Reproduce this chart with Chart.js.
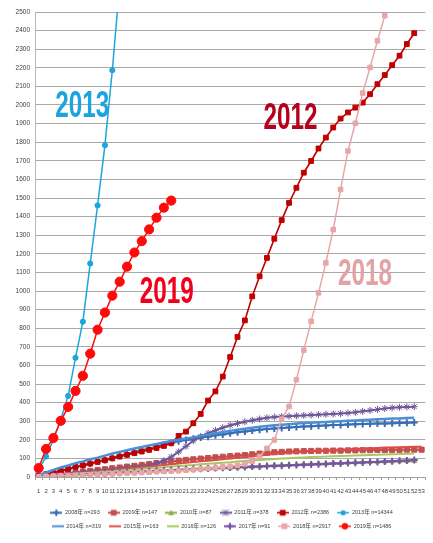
<!DOCTYPE html>
<html><head><meta charset="utf-8">
<script src="https://cdn.jsdelivr.net/npm/chart.js@4.4.0/dist/chart.umd.min.js"></script>
<style>html,body{margin:0;padding:0;background:#fff;}#wrap{width:433px;height:543px;}</style>
</head><body><div id="wrap"><canvas id="c" width="433" height="543"></canvas></div>
<script>
const weekLabels = ['1','2','3','4','5','6','7','8','9','10','11','12','13','14','15','16','17','18','19','20','21','22','23','24','25','26','27','28','29','30','31','32','33','34','35','36','37','38','39','40','41','42','43','44','45','46','47','48','49','50','51','52','53'];
const seriesNames = ['2008年 n=293','2009年 n=147','2010年 n=87','2011年 n=378','2012年 n=2386','2013年 n=14344','2014年 n=319','2015年 n=163','2016年 n=126','2017年 n=91','2018年 n=2917','2019年 n=1486'];
const y2008 = [5,13,22,32,42,53,62,73,83,92,103,114,123,134,144,153,163,174,183,192,199,205,212,217,224,229,235,241,245,250,254,258,261,263,266,269,271,273,275,277,279,280,282,284,285,286,287,288,289,290,291,293];
const y2009 = [3,7,11,16,20,24,29,33,38,42,47,51,56,60,65,70,75,79,84,88,92,95,99,102,106,109,112,115,118,122,126,130,133,135,137,138,139,140,141,141,142,142,143,143,144,144,145,145,146,146,147,147,147];
const y2010 = [1,3,4,6,8,9,11,13,15,16,18,21,23,24,26,28,30,31,34,36,37,39,42,43,45,48,49,51,54,55,57,60,61,63,65,66,68,70,71,72,74,75,77,78,79,81,82,83,84,85,86,87];
const y2011 = [3,6,9,12,15,19,22,26,30,34,38,42,46,51,55,62,72,88,108,135,165,195,218,235,251,265,278,288,297,305,312,318,322,325,327,329,331,333,335,337,339,341,344,348,353,358,363,368,372,375,377,378];
const y2012 = [8,15,24,33,43,54,63,72,81,90,100,110,119,128,137,146,156,167,182,221,244,289,339,411,460,540,645,753,842,971,1079,1178,1281,1381,1474,1555,1636,1699,1766,1825,1879,1927,1960,1986,2013,2058,2112,2161,2214,2265,2328,2386];
const y2013 = [40,110,200,310,436,641,835,1148,1460,1784,2187,2650];
const y2014 = [10,24,38,51,62,74,84,95,104,115,126,135,144,153,161,170,177,185,193,200,207,213,221,228,234,242,248,254,259,265,270,274,278,281,284,287,290,292,294,296,298,300,302,304,306,308,310,312,314,315,317,319];
const y2015 = [2,5,9,12,15,18,22,25,29,32,36,40,44,48,52,56,60,64,68,72,76,80,84,88,92,96,100,104,108,112,116,120,124,127,130,133,136,139,141,143,145,147,149,151,153,155,156,158,159,160,161,162,163];
const y2016 = [2,5,8,10,14,17,20,23,26,29,31,35,38,41,44,47,49,53,56,59,62,64,68,71,74,77,79,83,86,89,92,94,97,99,101,103,105,107,109,110,112,113,114,116,117,118,119,121,122,123,125,126];
const y2017 = [2,4,6,7,9,11,13,15,17,19,21,23,25,27,29,31,33,35,37,39,41,43,45,46,48,50,51,53,54,56,57,59,60,61,63,64,66,67,69,70,72,73,75,76,78,80,81,83,85,87,89,91];
const y2018 = [2,4,5,7,8,10,11,13,14,16,17,19,20,22,24,26,28,30,32,34,37,40,43,46,50,54,58,63,70,85,110,154,199,311,379,523,681,837,990,1151,1330,1546,1753,1902,2064,2202,2345,2480,2640];
const y2019 = [48,151,210,302,377,463,544,663,792,884,975,1050,1131,1207,1268,1331,1394,1448,1486];
const yearLabelTexts = ['2013','2012','2019','2018'];

const seriesData = [y2008,y2009,y2010,y2011,y2012,y2013,y2014,y2015,y2016,y2017,y2018,y2019];
const styles = [
  {c:'#3a6db3', ps:'cross', r:3.5, bw:2, lw:2},
  {c:'#c0504d', ps:'rect', r:3.6, bw:1, lw:2},
  {c:'#8db04a', ps:'triangle', r:3, bw:1, lw:2},
  {c:'#6d569c', ps:'star', r:3.5, bw:1, lw:2},
  {c:'#c00000', ps:'rect', r:3.4, bw:1, lw:1.6},
  {c:'#1ea5dc', ps:'circle', r:2.6, bw:1, lw:1.5},
  {c:'#4a8fd6', ps:false, r:0, bw:0, lw:2.5},
  {c:'#e04a48', ps:false, r:0, bw:0, lw:2},
  {c:'#a6c860', ps:false, r:0, bw:0, lw:2},
  {c:'#7753a8', ps:'cross', r:3.5, bw:2, lw:2},
  {c:'#e8a6a6', ps:'rect', r:3.2, bw:1, lw:1.5},
  {c:'#ff0a0a', ps:'circle', r:4.6, bw:1, lw:1.5}
];
const labelPos = [
  {idx:5.9, val:2010, color:'#1ea3dc'},
  {idx:34.2, val:1942, color:'#b5001c'},
  {idx:17.4, val:1008, color:'#f0001a'},
  {idx:44.3, val:1107, color:'#e3a3a3'}
];

function makeIcon(s){
  const cv = document.createElement('canvas'); cv.width = 12; cv.height = 9;
  const g = cv.getContext('2d');
  g.strokeStyle = s.c; g.fillStyle = s.c; g.lineWidth = Math.min(s.lw, 2);
  g.beginPath(); g.moveTo(0,4.5); g.lineTo(12,4.5); g.stroke();
  const x=6, y=4.5, r=Math.min(s.r,3.2);
  g.lineWidth = s.bw;
  if (s.ps==='circle'){ g.beginPath(); g.arc(x,y,r,0,Math.PI*2); g.fill(); }
  else if (s.ps==='rect'){ const h=r*0.9; g.fillRect(x-h,y-h,2*h,2*h); }
  else if (s.ps==='triangle'){ g.beginPath(); g.moveTo(x,y-r); g.lineTo(x+r,y+r*0.8); g.lineTo(x-r,y+r*0.8); g.closePath(); g.fill(); }
  else if (s.ps==='cross'){ g.beginPath(); g.moveTo(x-r,y); g.lineTo(x+r,y); g.moveTo(x,y-r); g.lineTo(x,y+r); g.stroke(); }
  else if (s.ps==='star'){ g.beginPath(); g.moveTo(x-r,y-r); g.lineTo(x+r,y+r); g.moveTo(x+r,y-r); g.lineTo(x-r,y+r); g.moveTo(x,y-r); g.lineTo(x,y+r); g.stroke(); }
  return cv;
}

const datasets = seriesData.map((d,i)=>{
  const s = styles[i];
  return {
    label: seriesNames[i], data: d,
    borderColor: s.c, backgroundColor: s.c,
    borderWidth: s.lw,
    pointStyle: s.ps || 'circle',
    pointRadius: s.ps ? s.r : 0,
    pointBorderWidth: s.bw,
    pointBackgroundColor: s.c, pointBorderColor: s.c,
    tension: 0, spanGaps: false,
    order: 20 - i
  };
});

const yearLabelPlugin = {
  id:'yearLabels',
  afterDatasetsDraw(chart){
    const {ctx, scales:{x,y}} = chart;
    yearLabelTexts.forEach((t,i)=>{
      const p = labelPos[i];
      const cx = x.getPixelForValue(p.idx), cy = y.getPixelForValue(p.val);
      ctx.save();
      const F = 30;
      ctx.font = 'bold ' + F + 'px "Liberation Sans", sans-serif';
      const w = ctx.measureText(t).width;
      const glyphH = 0.716 * F;
      ctx.translate(cx, cy + 13.5);
      ctx.scale(54 / w, 27 / glyphH);
      ctx.fillStyle = p.color; ctx.textAlign = 'center'; ctx.textBaseline = 'alphabetic';
      ctx.fillText(t, 0, 0);
      ctx.restore();
    });
  }
};

const tickFont = {family:'"Liberation Sans", sans-serif', size:6};
new Chart(document.getElementById('c'), {
  type:'line',
  data:{labels: weekLabels, datasets},
  options:{
    responsive:false, animation:false, events:[],
    layout:{padding:{top:12, right:5, bottom:4, left:15}},
    scales:{
      x:{
        offset:true,
        grid:{display:true, drawOnChartArea:false, drawTicks:true, tickLength:3, color:'#a0a0a0', offset:true},
        border:{display:true, color:'#a0a0a0'},
        ticks:{autoSkip:false, maxRotation:0, minRotation:0, padding:8, color:'#404040', font:tickFont},
        afterFit(s){ s.height = 25; }
      },
      y:{
        min:0, max:2500,
        grid:{color:'#a8a8a8', drawTicks:false, lineWidth:1},
        border:{display:true, color:'#b8b8b8'},
        ticks:{stepSize:100, padding:5, color:'#404040', font:{family:'"Liberation Sans", sans-serif', size:6.5}, callback:(v)=>String(v)},
        afterFit(s){ s.width = 20; }
      }
    },
    plugins:{
      tooltip:{enabled:false},
      legend:{
        position:'bottom',
        labels:{
          usePointStyle:true, pointStyleWidth:12, padding:8, color:'#404040',
          font:{family:'"Liberation Sans", "Noto Sans CJK JP", sans-serif', size:5.5},
          generateLabels(chart){
            return chart.data.datasets.map((ds,i)=>({
              text: ds.label, pointStyle: makeIcon(styles[i]),
              fillStyle: styles[i].c, strokeStyle: styles[i].c, lineWidth:0,
              hidden:false, datasetIndex:i, fontColor:'#404040'
            }));
          }
        }
      }
    }
  },
  plugins:[yearLabelPlugin]
});
</script></body></html>
